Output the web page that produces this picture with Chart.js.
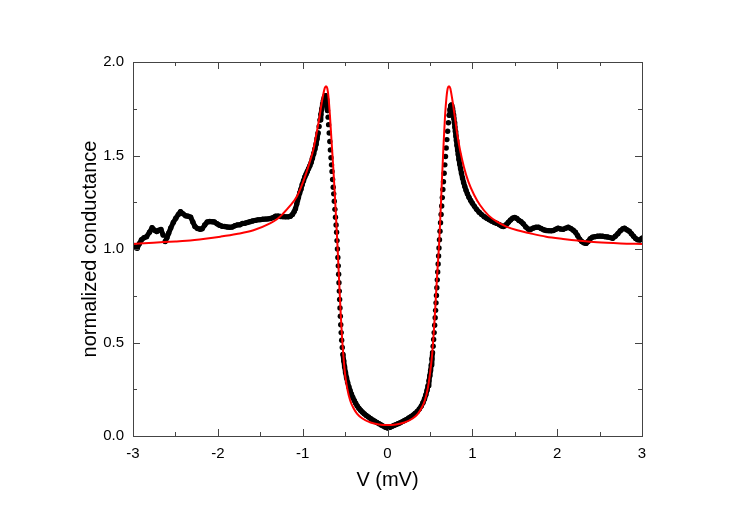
<!DOCTYPE html>
<html>
<head>
<meta charset="utf-8">
<script src="https://cdn.jsdelivr.net/npm/chart.js@4/dist/chart.umd.min.js"></script>
<style>
  body { margin: 0; background: #fff; }
  #wrap { width: 747px; height: 524px; }
</style>
</head>
<body>
<div id="wrap"><canvas id="tunnelChart" width="747" height="524"></canvas></div>
<script>
// measured dI/dV (black dots)
const measuredV = [
  -3.000, -2.975, -2.950, -2.925, -2.900, -2.870, -2.840, -2.805, -2.775, -2.745,
  -2.720, -2.695, -2.670, -2.645, -2.620, -2.600, -2.580, -2.555, -2.525, -2.495,
  -2.465, -2.440, -2.410, -2.380, -2.350, -2.320, -2.295, -2.270, -2.240, -2.210,
  -2.185, -2.155, -2.125, -2.095, -2.065, -2.040, -2.010, -1.980, -1.950, -1.920,
  -1.890, -1.860, -1.830, -1.800, -1.770, -1.740, -1.710, -1.680, -1.650, -1.620,
  -1.590, -1.560, -1.530, -1.500, -1.470, -1.440, -1.410, -1.380, -1.350, -1.320,
  -1.290, -1.260, -1.230, -1.200, -1.170, -1.145, -1.120, -1.100, -1.085, -1.070,
  -1.060, -1.050, -1.035, -1.020, -1.005, -0.990, -0.975, -0.960, -0.945, -0.930,
  -0.915, -0.900, -0.885, -0.870, -0.855, -0.842, -0.830, -0.818, -0.806, -0.795,
  -0.785, -0.775, -0.765, -0.755, -0.745, -0.737,
  -0.730, -0.722, -0.714, -0.707, -0.700, -0.694, -0.687, -0.680, -0.673, -0.666,
  -0.660, -0.654, -0.647, -0.640, -0.634, -0.627, -0.620, -0.613, -0.606, -0.600,
  -0.595, -0.590, -0.585, -0.580, -0.576, -0.572, -0.568, -0.564, -0.560, -0.556,
  -0.551, -0.546, -0.540, -0.533, -0.525, -0.516, -0.506, -0.495, -0.483, -0.470,
  -0.456, -0.441, -0.425, -0.409, -0.392, -0.375, -0.357, -0.338, -0.318, -0.297,
  -0.275, -0.250, -0.225, -0.200, -0.175, -0.150, -0.125, -0.100, -0.075, -0.050,
  -0.025, 0.000, 0.025, 0.050, 0.075, 0.100, 0.125, 0.150, 0.175, 0.200,
  0.225, 0.250, 0.275, 0.300, 0.325, 0.350, 0.375, 0.398, 0.418, 0.436,
  0.452, 0.466, 0.478, 0.489, 0.499, 0.508, 0.516, 0.524, 0.531, 0.538,
  0.544, 0.550, 0.556, 0.562, 0.567, 0.572, 0.577, 0.582, 0.587, 0.592,
  0.597, 0.602, 0.607, 0.613, 0.619, 0.625, 0.632, 0.639, 0.646, 0.653,
  0.660, 0.668, 0.676, 0.684, 0.692, 0.700, 0.709, 0.718, 0.727, 0.736,
  0.745, 0.752, 0.758, 0.764, 0.770, 0.776, 0.782, 0.788, 0.794, 0.800,
  0.806, 0.812, 0.819, 0.826, 0.834, 0.842, 0.851, 0.861, 0.872, 0.884,
  0.897, 0.911, 0.926, 0.942, 0.960, 0.980, 1.000, 1.025, 1.050, 1.080,
  1.110, 1.140, 1.170, 1.200, 1.230, 1.260, 1.290, 1.320, 1.345, 1.365,
  1.385, 1.405, 1.425, 1.450, 1.475, 1.500, 1.525, 1.550, 1.575, 1.600,
  1.630, 1.660, 1.690, 1.720, 1.750, 1.780, 1.810, 1.840, 1.870, 1.900,
  1.930, 1.955, 1.985, 2.010, 2.040, 2.070, 2.100, 2.130, 2.160, 2.190,
  2.215, 2.240, 2.265, 2.290, 2.315, 2.340, 2.365, 2.390, 2.415, 2.445,
  2.475, 2.505, 2.535, 2.565, 2.595, 2.625, 2.655, 2.685, 2.715, 2.745,
  2.775, 2.795, 2.820, 2.850, 2.875, 2.900, 2.925, 2.950, 2.975, 3.000
];
const measuredG = [
  1.020, 1.008, 1.004, 1.028, 1.050, 1.060, 1.066, 1.090, 1.114, 1.100,
  1.093, 1.100, 1.104, 1.075, 1.040, 1.060, 1.084, 1.112, 1.142, 1.165,
  1.185, 1.200, 1.188, 1.178, 1.175, 1.170, 1.145, 1.120, 1.110, 1.106,
  1.108, 1.128, 1.145, 1.147, 1.146, 1.144, 1.135, 1.127, 1.122, 1.120,
  1.118, 1.116, 1.118, 1.124, 1.129, 1.130, 1.136, 1.138, 1.142, 1.146,
  1.150, 1.153, 1.156, 1.157, 1.159, 1.160, 1.161, 1.163, 1.168, 1.175,
  1.176, 1.174, 1.173, 1.172, 1.172, 1.175, 1.185, 1.200, 1.215, 1.240,
  1.260, 1.275, 1.300, 1.320, 1.345, 1.365, 1.385, 1.400, 1.415, 1.430,
  1.445, 1.462, 1.485, 1.510, 1.535, 1.560, 1.590, 1.620, 1.655, 1.690,
  1.720, 1.748, 1.775, 1.795, 1.810, 1.818,
  1.820, 1.800, 1.770, 1.740, 1.705, 1.665, 1.620, 1.575, 1.530, 1.488,
  1.450, 1.415, 1.372, 1.330, 1.295, 1.255, 1.212, 1.170, 1.128, 1.090,
  1.045, 1.000, 0.955, 0.910, 0.865, 0.820, 0.775, 0.730, 0.685, 0.640,
  0.595, 0.553, 0.512, 0.473, 0.436, 0.402, 0.370, 0.340, 0.312, 0.287,
  0.264, 0.243, 0.224, 0.206, 0.190, 0.175, 0.161, 0.149, 0.138, 0.128,
  0.119, 0.110, 0.102, 0.094, 0.086, 0.079, 0.072, 0.066, 0.059, 0.053,
  0.047, 0.043, 0.046, 0.051, 0.056, 0.061, 0.066, 0.071, 0.077, 0.083,
  0.089, 0.096, 0.103, 0.111, 0.120, 0.131, 0.144, 0.160, 0.178, 0.198,
  0.220, 0.244, 0.269, 0.295, 0.322, 0.350, 0.380, 0.412, 0.445, 0.480,
  0.516, 0.553, 0.592, 0.632, 0.672, 0.712, 0.752, 0.793, 0.835, 0.877,
  0.920, 0.963, 1.006, 1.050, 1.095, 1.140, 1.185, 1.230, 1.275, 1.318,
  1.360, 1.405, 1.450, 1.495, 1.540, 1.585, 1.630, 1.675, 1.715, 1.745,
  1.765, 1.770, 1.765, 1.752, 1.736, 1.718, 1.698, 1.676, 1.652, 1.628,
  1.604, 1.580, 1.555, 1.530, 1.505, 1.480, 1.455, 1.430, 1.405, 1.380,
  1.356, 1.334, 1.314, 1.295, 1.277, 1.260, 1.245, 1.228, 1.212, 1.197,
  1.184, 1.173, 1.164, 1.156, 1.149, 1.142, 1.137, 1.130, 1.123, 1.120,
  1.124, 1.133, 1.143, 1.155, 1.165, 1.169, 1.163, 1.153, 1.146, 1.135,
  1.118, 1.106, 1.106, 1.112, 1.116, 1.116, 1.110, 1.103, 1.099, 1.098,
  1.097, 1.099, 1.106, 1.111, 1.107, 1.105, 1.111, 1.116, 1.110, 1.100,
  1.090, 1.072, 1.052, 1.040, 1.033, 1.030, 1.040, 1.055, 1.063, 1.066,
  1.068, 1.069, 1.068, 1.066, 1.064, 1.061, 1.057, 1.068, 1.082, 1.098,
  1.108, 1.111, 1.103, 1.095, 1.082, 1.068, 1.056, 1.049, 1.048, 1.058
];

// fitted curve (red line)
const fitV = [
  -3.000, -2.760, -2.500, -2.370, -2.150, -1.970, -1.780, -1.580, -1.385, -1.300,
  -1.230, -1.150, -1.070, -1.020, -0.970, -0.920, -0.875, -0.840, -0.800, -0.780,
  -0.760, -0.740, -0.725, -0.710, -0.695, -0.678, -0.660, -0.640, -0.622, -0.607,
  -0.593, -0.580, -0.565, -0.550, -0.535, -0.520, -0.500, -0.475, -0.440, -0.400,
  -0.360, -0.300, -0.200, -0.100, 0.000, 0.100, 0.200, 0.300, 0.360, 0.400,
  0.440, 0.475, 0.500, 0.525, 0.545, 0.565, 0.580, 0.595, 0.610, 0.625,
  0.640, 0.660, 0.678, 0.695, 0.710, 0.725, 0.740, 0.760, 0.780, 0.796,
  0.820, 0.855, 0.900, 0.953, 1.020, 1.090, 1.190, 1.290, 1.400, 1.530,
  1.680, 1.870, 2.070, 2.270, 2.470, 2.750, 3.000
];
const fitG = [
  1.027, 1.034, 1.040, 1.044, 1.055, 1.066, 1.080, 1.100, 1.137, 1.160,
  1.190, 1.230, 1.280, 1.330, 1.390, 1.460, 1.530, 1.610, 1.710, 1.770,
  1.820, 1.860, 1.870, 1.860, 1.810, 1.710, 1.580, 1.440, 1.300, 1.170,
  1.050, 0.925, 0.780, 0.640, 0.520, 0.430, 0.330, 0.255, 0.190, 0.148,
  0.120, 0.095, 0.072, 0.062, 0.059, 0.062, 0.072, 0.095, 0.120, 0.148,
  0.190, 0.255, 0.330, 0.430, 0.550, 0.700, 0.820, 0.930, 1.040, 1.190,
  1.350, 1.550, 1.710, 1.810, 1.860, 1.870, 1.860, 1.810, 1.750, 1.700,
  1.620, 1.530, 1.440, 1.360, 1.290, 1.235, 1.180, 1.146, 1.120, 1.100,
  1.084, 1.066, 1.054, 1.044, 1.036, 1.030, 1.027
];

const xMajorTicks = [-3, -2, -1, 0, 1, 2, 3];
const xMinorTicks = [-2.5, -1.5, -0.5, 0.5, 1.5, 2.5];
const yMajorTicks = [0, 0.5, 1.0, 1.5, 2.0];
const yMinorTicks = [0.25, 0.75, 1.25, 1.75];

const FONT = '"Liberation Sans", Arial, Helvetica, sans-serif';
const frameColor = '#444';

// inward tick marks on all four sides, plus the box
const frameTicks = {
  id: 'frameTicks',
  afterDraw(chart) {
    const { ctx, chartArea: a, scales } = chart;
    const xs = scales.x, ys = scales.y;
    ctx.save();
    ctx.strokeStyle = frameColor;
    ctx.lineWidth = 1;
    ctx.beginPath();
    function xt(v, len) {
      const px = Math.round(xs.getPixelForValue(v)) + 0.5;
      ctx.moveTo(px, a.bottom); ctx.lineTo(px, a.bottom - len);
      ctx.moveTo(px, a.top); ctx.lineTo(px, a.top + len);
    }
    function yt(v, len) {
      const py = Math.round(ys.getPixelForValue(v)) + 0.5;
      ctx.moveTo(a.left, py); ctx.lineTo(a.left + len, py);
      ctx.moveTo(a.right, py); ctx.lineTo(a.right - len, py);
    }
    xMajorTicks.forEach(v => xt(v, 7));
    xMinorTicks.forEach(v => xt(v, 4));
    yMajorTicks.forEach(v => yt(v, 7));
    yMinorTicks.forEach(v => yt(v, 4));
    ctx.stroke();
    ctx.strokeRect(Math.round(a.left) + 0.5, Math.round(a.top) + 0.5,
      Math.round(a.right - a.left), Math.round(a.bottom - a.top));
    ctx.restore();
  }
};

const ctx = document.getElementById('tunnelChart').getContext('2d');
const chart = new Chart(ctx, {
  type: 'scatter',
  data: {
    datasets: [
      {
        label: 'fit',
        data: fitV.map((v, i) => ({ x: v, y: fitG[i] })),
        showLine: true,
        borderColor: '#ff0000',
        borderWidth: 2,
        pointRadius: 0,
        cubicInterpolationMode: 'monotone',
        order: 1
      },
      {
        label: 'data',
        data: measuredV.map((v, i) => ({ x: v, y: measuredG[i] })),
        showLine: true,
        borderColor: '#000',
        borderWidth: 5,
        borderCapStyle: 'round',
        borderJoinStyle: 'round',
        pointRadius: 2.7,
        pointBorderWidth: 0,
        pointBackgroundColor: '#000',
        segment: {
          // steep parts show as separate dots, as in the measurement
          borderColor: c => Math.hypot(c.p1.x - c.p0.x, c.p1.y - c.p0.y) > 6.5 ? 'rgba(0,0,0,0)' : undefined
        },
        order: 2
      }
    ]
  },
  options: {
    responsive: false,
    animation: false,
    events: [],
    layout: { padding: { left: 0, right: 105, top: 62, bottom: 0 } },
    plugins: { legend: { display: false }, tooltip: { enabled: false } },
    scales: {
      x: {
        type: 'linear',
        min: -3, max: 3,
        grid: { display: false, drawTicks: false },
        border: { display: false },
        ticks: {
          stepSize: 1,
          padding: 9,
          color: '#000',
          font: { family: FONT, size: 15 },
          callback: v => String(v)
        },
        title: {
          display: true,
          text: 'V (mV)',
          color: '#000',
          font: { family: FONT, size: 20 },
          padding: { top: 0, bottom: 32 }
        },
        afterFit: s => { s.height = 88; }
      },
      y: {
        type: 'linear',
        min: 0, max: 2,
        grid: { display: false, drawTicks: false },
        border: { display: false },
        ticks: {
          stepSize: 0.5,
          padding: 9,
          color: '#000',
          font: { family: FONT, size: 15 },
          callback: v => v.toFixed(1)
        },
        title: {
          display: true,
          text: 'normalized conductance',
          color: '#000',
          font: { family: FONT, size: 20 },
          padding: { top: 78, bottom: 0 }
        },
        afterFit: s => { s.width = 133; }
      }
    }
  },
  plugins: [frameTicks]
});
</script>
</body>
</html>
